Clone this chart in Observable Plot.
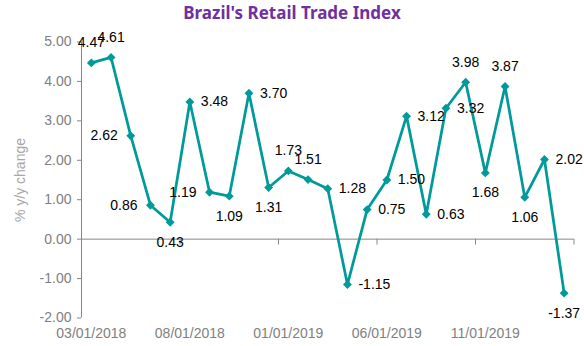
<!DOCTYPE html>
<html><head><meta charset="utf-8">
<script src="https://cdn.jsdelivr.net/npm/d3@7"></script>
<script src="https://cdn.jsdelivr.net/npm/@observablehq/plot@0.6"></script>
<style>
body{margin:0;background:#fff;}
#title{width:584px;height:26px;line-height:26px;text-align:center;font-family:"Noto Sans",sans-serif;font-weight:bold;font-size:17px;color:#7030a0;}
</style></head><body>
<div id="title">Brazil's Retail Trade Index</div>
<div id="chart"></div>
<script>
const months = ["03/01/2018","04/01/2018","05/01/2018","06/01/2018","07/01/2018","08/01/2018","09/01/2018","10/01/2018","11/01/2018","12/01/2018",
  "01/01/2019","02/01/2019","03/01/2019","04/01/2019","05/01/2019","06/01/2019","07/01/2019","08/01/2019","09/01/2019","10/01/2019","11/01/2019","12/01/2019",
  "01/01/2020","02/01/2020","03/01/2020"];
const values = [4.47,4.61,2.62,0.86,0.43,3.48,1.19,1.09,3.70,1.31,1.73,1.51,1.28,-1.15,0.75,1.50,3.12,0.63,3.32,3.98,1.68,3.87,1.06,2.02,-1.37];
const labelPos = ["top","top","left","left","bottom","right","left","bottom","right","bottom","top","top","right","right","right","right","right","right","right","top","bottom","top","bottom","right","bottom"];
const yTicks = [-2,-1,0,1,2,3,4,5];
const xTickMonths = ["03/01/2018","08/01/2018","01/01/2019","06/01/2019","11/01/2019"];
const yLabel = "% y/y change";

const data = values.map((v, i) => ({i, v, pos: labelPos[i]}));
const xTickIdx = xTickMonths.map(m => months.indexOf(m));
const boundaries = xTickIdx.map(i => i + 4.5);

const teal = "#009a9a";
const axisGray = "#868686";
const textGray = "#808080";
const font = "'Liberation Sans', Arial, sans-serif";
const tickShape = {draw(ctx, l) { ctx.moveTo(0, 0); ctx.lineTo(0, -l); }};

const chart = Plot.plot({
  width: 584,
  height: 320,
  marginLeft: 81,
  marginRight: 10.5,
  marginTop: 15.5,
  marginBottom: 28.5,
  style: {fontFamily: font, fontSize: "14px", background: "#fff"},
  x: {type: "linear", domain: [-0.5, months.length - 0.5]},
  y: {domain: [-2, 5]},
  marks: [
    Plot.ruleY([0], {stroke: axisGray, strokeWidth: 1}),
    Plot.ruleX([-0.5], {stroke: axisGray, strokeWidth: 1}),
    Plot.vector(boundaries, {x: d => d, y: 0, length: 5, rotate: 180, anchor: "start", shape: tickShape, stroke: axisGray, strokeWidth: 1}),
    Plot.axisY(yTicks, {tickFormat: d => d.toFixed(2), tickSize: 4, tickPadding: 6, stroke: axisGray, fill: textGray, fontSize: 14, label: null}),
    Plot.axisX(xTickIdx, {tickFormat: i => months[i], tickSize: 0, tickPadding: 10, fill: textGray, fontSize: 14, label: null}),
    Plot.text([yLabel], {text: d => d, frameAnchor: "left", textAnchor: "middle", rotate: -90, dx: -61, fill: "#a6a6a6", fontSize: 14}),
    Plot.line(data, {x: "i", y: "v", stroke: teal, strokeWidth: 2.75}),
    Plot.dot(data, {x: "i", y: "v", symbol: "diamond2", r: 4, fill: teal, stroke: "none"}),
    Plot.text(data.filter(d => d.pos === "top"), {x: "i", y: "v", text: d => d.v.toFixed(2), dy: -20, fill: "#000", fontSize: 14}),
    Plot.text(data.filter(d => d.pos === "bottom"), {x: "i", y: "v", text: d => d.v.toFixed(2), dy: 20, fill: "#000", fontSize: 14}),
    Plot.text(data.filter(d => d.pos === "right"), {x: "i", y: "v", text: d => d.v.toFixed(2), dx: 11, textAnchor: "start", fill: "#000", fontSize: 14}),
    Plot.text(data.filter(d => d.pos === "left"), {x: "i", y: "v", text: d => d.v.toFixed(2), dx: -13, textAnchor: "end", fill: "#000", fontSize: 14})
  ]
});
document.getElementById("chart").appendChild(chart);
</script>
</body></html>
